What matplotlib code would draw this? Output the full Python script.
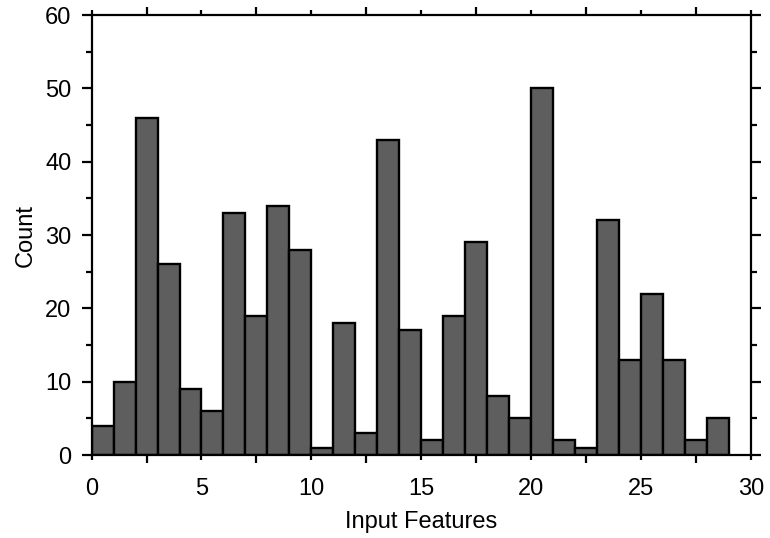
import matplotlib
matplotlib.use("Agg")
import matplotlib.pyplot as plt
from matplotlib.ticker import MultipleLocator

plt.rcParams['font.family'] = ['Liberation Sans', 'DejaVu Sans']

bin_left = list(range(29))
counts = [4, 10, 46, 26, 9, 6, 33, 19, 34, 28, 1, 18, 3, 43, 17, 2, 19, 29, 8, 5,
          50, 2, 1, 32, 13, 22, 13, 2, 5]
xlabel = "Input Features"
ylabel = "Count"

fig = plt.figure(figsize=(7.70, 5.38), dpi=100)
ax = fig.add_axes([0.119, 0.154, 0.856, 0.818])

ax.bar(bin_left, counts, width=1.0, align='edge', color='#5e5e5e',
       edgecolor='black', linewidth=1.7)

ax.set_xlim(0, 30)
ax.set_ylim(0, 60)
ax.xaxis.set_major_locator(MultipleLocator(5))
ax.xaxis.set_minor_locator(MultipleLocator(2.5))
ax.yaxis.set_major_locator(MultipleLocator(10))
ax.yaxis.set_minor_locator(MultipleLocator(5))

for s in ax.spines.values():
    s.set_linewidth(1.6)

ax.tick_params(axis='both', which='both', direction='out', top=True, right=True,
               width=1.6, labelsize=17, colors='black')
ax.tick_params(axis='x', which='major', length=3.5, pad=13)
ax.tick_params(axis='x', which='minor', length=5.5)
ax.tick_params(axis='y', which='major', length=7.5, pad=7)
ax.tick_params(axis='y', which='minor', length=4.5)

ax.set_xlabel(xlabel, fontsize=17, labelpad=8)
ax.set_ylabel(ylabel, fontsize=17, labelpad=6)

fig.savefig("out.png", dpi=100)
